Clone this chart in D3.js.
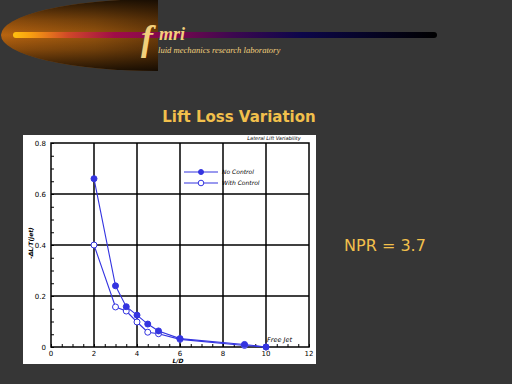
<!DOCTYPE html>
<html>
<head>
<meta charset="utf-8">
<script src="https://cdn.jsdelivr.net/npm/d3@7"></script>
<style>
  html, body { margin: 0; padding: 0; background: #363636; }
  svg { display: block; }
</style>
</head>
<body>
<div id="chart"></div>
<script>
// 数据
const ldNoControl   = [2, 3, 3.5, 4, 4.5, 5, 6, 9, 10];
const liftNoControl = [0.66, 0.24, 0.158, 0.125, 0.09, 0.063, 0.033, 0.01, 0.0];
const ldWithControl   = [2, 3, 3.5, 4, 4.5, 5, 6, 9, 10];
const liftWithControl = [0.40, 0.157, 0.141, 0.098, 0.058, 0.052, 0.03, 0.006, 0.0];
const xTicks = [0, 2, 4, 6, 8, 10, 12];
const yTicks = [0, 0.2, 0.4, 0.6, 0.8];
const seriesNames = ['No Control', 'With Control'];

const W = 512, H = 384;
const svg = d3.select('#chart').append('svg')
  .attr('width', W).attr('height', H);

svg.append('rect').attr('width', W).attr('height', H).attr('fill', '#363636');

const defs = svg.append('defs');

// 标志：光晕 + 渐变条
const glowGrad = defs.append('linearGradient').attr('id', 'glowGrad');
[[0, '#b86410'], [0.3, '#96540e'], [0.62, '#583008'], [0.85, '#1c0e04'], [1, '#0a0503']]
  .forEach(([o, c]) => glowGrad.append('stop').attr('offset', o).attr('stop-color', c));

const glowShade = defs.append('linearGradient').attr('id', 'glowShade')
  .attr('x1', 0).attr('y1', 0).attr('x2', 0).attr('y2', 1);
[[0, 0.8], [0.3, 0.25], [0.5, 0], [0.7, 0.25], [1, 0.8]]
  .forEach(([o, a]) => glowShade.append('stop').attr('offset', o)
    .attr('stop-color', '#000').attr('stop-opacity', a));

defs.append('clipPath').attr('id', 'glowClip')
  .append('rect').attr('x', 0).attr('y', 0).attr('width', 158).attr('height', 80);

const glow = svg.append('g').attr('clip-path', 'url(#glowClip)');
glow.append('ellipse').attr('cx', 157).attr('cy', 35).attr('rx', 156).attr('ry', 36)
  .attr('fill', 'url(#glowGrad)');
glow.append('ellipse').attr('cx', 157).attr('cy', 35).attr('rx', 156).attr('ry', 36)
  .attr('fill', 'url(#glowShade)');

const barGrad = defs.append('linearGradient').attr('id', 'barGrad');
[[0, '#ffc010'], [0.04, '#f8a010'], [0.13, '#d04828'], [0.24, '#a00c48'],
 [0.38, '#78084e'], [0.52, '#3c0850'], [0.68, '#0c064a'], [0.82, '#06042a'], [1, '#000000']]
  .forEach(([o, c]) => barGrad.append('stop').attr('offset', o).attr('stop-color', c));

svg.append('rect').attr('x', 13).attr('y', 32).attr('width', 424).attr('height', 6)
  .attr('rx', 3).attr('fill', 'url(#barGrad)');

svg.append('text').attr('x', 141).attr('y', 50)
  .style('font-family', '"Liberation Serif", "DejaVu Serif", serif')
  .style('font-style', 'italic').style('font-weight', 'bold')
  .style('font-size', '36px').style('fill', '#f2d07c')
  .text('f');
svg.append('text').attr('x', 159).attr('y', 40)
  .style('font-family', '"Liberation Serif", "DejaVu Serif", serif')
  .style('font-style', 'italic').style('font-weight', 'bold')
  .style('font-size', '18px').style('fill', '#f2d07c')
  .text('mri');
svg.append('text').attr('x', 158).attr('y', 53)
  .style('font-family', '"Liberation Serif", "DejaVu Serif", serif')
  .style('font-style', 'italic')
  .style('font-size', '8.6px').style('fill', '#f2d07c')
  .text('luid mechanics research laboratory');

// 标题
svg.append('text').attr('x', 239).attr('y', 122).attr('text-anchor', 'middle')
  .style('font-family', '"DejaVu Sans", Verdana, sans-serif')
  .style('font-weight', 'bold').style('font-size', '15px').style('fill', '#f2c04c')
  .text('Lift Loss Variation');

svg.append('text').attr('x', 385).attr('y', 251).attr('text-anchor', 'middle')
  .style('font-family', '"DejaVu Sans", Verdana, sans-serif')
  .style('font-size', '16px').style('fill', '#f2c04c')
  .text('NPR = 3.7');

// 白色面板
svg.append('rect').attr('x', 23).attr('y', 135).attr('width', 293).attr('height', 229)
  .attr('fill', '#ffffff');

// 比例尺
const x = d3.scaleLinear().domain([0, 12]).range([51, 309]);
const y = d3.scaleLinear().domain([0, 0.8]).range([347, 143]);

const g = svg.append('g');

// 网格
g.selectAll('.gx').data(xTicks.slice(1, -1)).enter().append('line')
  .attr('x1', d => x(d)).attr('x2', d => x(d)).attr('y1', y(0)).attr('y2', y(0.8))
  .attr('stroke', '#000').attr('stroke-width', 1.5);
g.selectAll('.gy').data(yTicks.slice(1, -1)).enter().append('line')
  .attr('x1', x(0)).attr('x2', x(12)).attr('y1', d => y(d)).attr('y2', d => y(d))
  .attr('stroke', '#000').attr('stroke-width', 1.5);

// 坐标轴（刻度朝内）
const fontAxis = '"DejaVu Sans", Arial, sans-serif';
const xAxis = g.append('g').attr('transform', `translate(0,${y(0)})`)
  .call(d3.axisBottom(x).tickValues(d3.range(0, 12.01, 0.5)).tickSize(-3).tickFormat(''));
const yAxis = g.append('g').attr('transform', `translate(${x(0)},0)`)
  .call(d3.axisLeft(y).tickValues(d3.range(0, 0.801, 0.05)).tickSize(-3).tickFormat(''));
[xAxis, yAxis].forEach(a => {
  a.select('.domain').remove();
  a.selectAll('.tick line').attr('stroke', '#000').attr('stroke-width', 1);
});

g.append('rect').attr('x', x(0)).attr('y', y(0.8))
  .attr('width', x(12) - x(0)).attr('height', y(0) - y(0.8))
  .attr('fill', 'none').attr('stroke', '#000').attr('stroke-width', 1.5);

g.selectAll('.xl').data(xTicks).enter().append('text')
  .attr('x', d => x(d)).attr('y', y(0) + 8.5).attr('text-anchor', 'middle')
  .style('font-family', fontAxis).style('font-size', '7px')
  .text(d => d);
g.selectAll('.yl').data(yTicks).enter().append('text')
  .attr('x', x(0) - 5).attr('y', d => y(d) + 2.5).attr('text-anchor', 'end')
  .style('font-family', fontAxis).style('font-size', '7px')
  .text(d => d === 0 ? '0' : d.toFixed(1));

g.append('text').attr('x', 178).attr('y', 362.5).attr('text-anchor', 'middle')
  .style('font-family', fontAxis).style('font-size', '6px')
  .style('font-weight', 'bold').style('font-style', 'italic')
  .text('L/D');
g.append('text').attr('transform', 'translate(33,243) rotate(-90)').attr('text-anchor', 'middle')
  .style('font-family', fontAxis).style('font-size', '6px')
  .style('font-weight', 'bold').style('font-style', 'italic')
  .text('-ΔL/T(jet)');
g.append('text').attr('x', 274).attr('y', 140).attr('text-anchor', 'middle')
  .style('font-family', fontAxis).style('font-size', '5px').style('font-style', 'italic')
  .text('Lateral Lift Variability');
g.append('text').attr('x', 267).attr('y', 342)
  .style('font-family', fontAxis).style('font-size', '6.5px').style('font-style', 'italic')
  .text('Free Jet');

// 数据线
const blue = '#3434e0';
const line = d3.line().x(d => x(d[0])).y(d => y(d[1]));
const series = [
  { name: seriesNames[0], pts: d3.zip(ldNoControl, liftNoControl), filled: true },
  { name: seriesNames[1], pts: d3.zip(ldWithControl, liftWithControl), filled: false }
];

series.slice().reverse().forEach(s => {
  g.append('path').attr('d', line(s.pts)).attr('fill', 'none')
    .attr('stroke', blue).attr('stroke-width', 1.1);
  g.selectAll(null).data(s.pts).enter().append('circle')
    .attr('cx', d => x(d[0])).attr('cy', d => y(d[1])).attr('r', 3)
    .attr('fill', s.filled ? blue : '#fff').attr('stroke', blue).attr('stroke-width', 1);
});

// 图例
series.forEach((s, i) => {
  const ly = 172 + i * 11;
  g.append('line').attr('x1', 184).attr('x2', 218).attr('y1', ly).attr('y2', ly)
    .attr('stroke', blue).attr('stroke-width', 1.1);
  g.append('circle').attr('cx', 201).attr('cy', ly).attr('r', s.filled ? 2.5 : 2.8)
    .attr('fill', s.filled ? blue : '#fff').attr('stroke', blue).attr('stroke-width', 1);
  g.append('text').attr('x', 222).attr('y', ly + 2)
    .style('font-family', fontAxis).style('font-size', '6px').style('font-style', 'italic')
    .text(s.name);
});
</script>
</body>
</html>
